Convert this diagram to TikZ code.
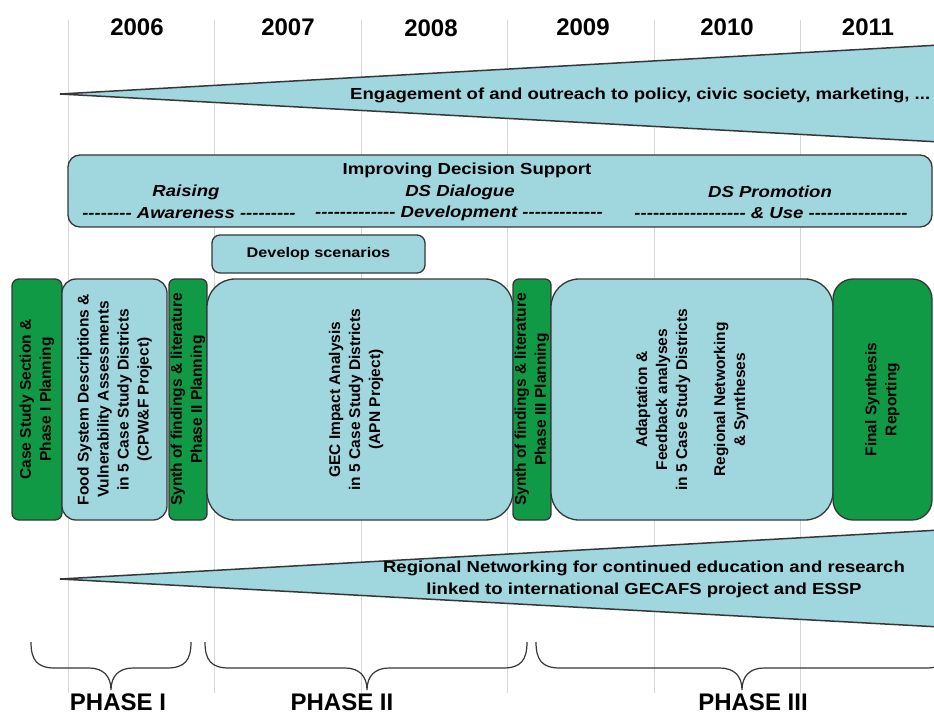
\documentclass[tikz,border=0pt]{standalone}
\usepackage{fontspec}
\setmainfont{Liberation Sans}[Ligatures=TeXOff]
\newfontfamily\widefont{Liberation Sans}[FakeStretch=1.16, Ligatures=TeXOff]
\definecolor{boxblue}{RGB}{160,215,222}
\definecolor{boxgreen}{RGB}{16,154,70}
\definecolor{edge}{RGB}{55,55,55}
\definecolor{gridgray}{RGB}{215,215,215}
\newcommand\hyph[1]{\foreach\k in {1,...,#1}{-}}

\begin{document}
\begin{tikzpicture}[x=1pt,y=-1pt,
  gridline/.style={draw=gridgray, line width=0.8pt},
  wedge/.style={fill=boxblue, draw=edge, line width=1.5pt, line join=miter},
  bluebox/.style={draw=edge, line width=1.3pt, fill=boxblue, inner sep=0pt},
  greenbox/.style={draw=edge, line width=1.3pt, fill=boxgreen, inner sep=0pt},
  vtext/.style={rotate=90, align=center, font=\fontsize{15.5}{20}\selectfont\bfseries},
  yearlabel/.style={font=\fontsize{24}{28}\selectfont\bfseries, inner sep=0pt},
  phaselabel/.style={font=\fontsize{24}{28}\selectfont\bfseries, inner sep=0pt},
  bodytext/.style={font=\widefont\fontsize{16}{22}\selectfont\bfseries, inner sep=0pt, align=center},
  slanttext/.style={font=\widefont\fontsize{16}{19}\selectfont\bfseries\itshape, inner sep=0pt},
  bracepath/.style={draw=edge, line width=1.2pt}
]
\clip (0,0) rectangle (934,715);
\fill[white] (0,0) rectangle (934,715);

% year columns
\foreach \gx in {68,214,361,507,654,800}
  \draw[gridline] (\gx,20) -- (\gx,693);

\node[yearlabel] (y2006) at (137,27) {2006};
\node[yearlabel] (y2007) at (288,27) {2007};
\node[yearlabel] (y2008) at (431,28) {2008};
\node[yearlabel] (y2009) at (583,27) {2009};
\node[yearlabel] (y2010) at (727,27) {2010};
\node[yearlabel] (y2011) at (868,27) {2011};

% outreach wedge
\coordinate (toptip) at (60,94);
\coordinate (topup) at (940,45);
\coordinate (toplow) at (940,142);
\filldraw[wedge] (toptip) -- (topup) -- (toplow) -- cycle;
\node[bodytext, anchor=west] (outreach) at (350,95)
  {Engagement of and outreach to policy, civic society, marketing, ...};

% decision support band
\node[bluebox, rounded corners=12pt, minimum width=864pt, minimum height=72pt]
  (ds) at (500,191) {};
\node[bodytext] (dstitle) at (467,170) {Improving Decision Support};
\node[slanttext] (raise1) at (186,192) {Raising};
\node[slanttext] (raise2) at (189,213) {\hyph{8} Awareness \hyph{9}};
\node[slanttext] (dial1) at (460,192) {DS Dialogue};
\node[slanttext] (dial2) at (459,213) {\hyph{13} Development \hyph{13}};
\node[slanttext] (prom1) at (770,192) {DS Promotion};
\node[slanttext] (prom2) at (771,213) {\hyph{18} \& Use \hyph{16}};

\node[bluebox, rounded corners=8pt, minimum width=213pt, minimum height=38pt,
      font=\widefont\fontsize{14}{17}\selectfont\bfseries] (scen) at (318.5,254) {Develop scenarios};

% activity blocks
\node[greenbox, vtext, rounded corners=7pt, minimum width=241pt, minimum height=50pt]
  (cs) at (37,399.5) {Case Study Section \&\\Phase I Planning};
\node[bluebox, vtext, rounded corners=14pt, minimum width=241pt, minimum height=105pt]
  (food) at (114.5,399.5) {Food System Descriptions \&\\Vulnerability Assessments\\in 5 Case Study Districts\\(CPW\&F Project)};
\node[greenbox, vtext, rounded corners=6pt, minimum width=241pt, minimum height=38pt]
  (syn1) at (188,399.5) {Synth of findings \& literature\\Phase II Planning};
\node[bluebox, rounded corners=28pt, minimum width=306pt, minimum height=241pt]
  (gec) at (360,399.5) {};
\node[vtext] (gectext) at ([xshift=-4pt]gec.center) {GEC Impact Analysis\\in 5 Case Study Districts\\(APN Project)};
\node[greenbox, vtext, rounded corners=6pt, minimum width=241pt, minimum height=38pt]
  (syn2) at (532,399.5) {Synth of findings \& literature\\Phase III Planning};
\node[bluebox, vtext, rounded corners=28pt, minimum width=241pt, minimum height=282pt]
  (adapt) at (692,399.5) {Adaptation \&\\Feedback analyses\\in 5 Case Study Districts\\[18pt]Regional Networking\\\& Syntheses};
\node[greenbox, vtext, rounded corners=20pt, minimum width=241pt, minimum height=99pt]
  (final) at (882.5,399.5) {Final Synthesis\\Reporting};

% networking wedge
\coordinate (bottip) at (60,579);
\coordinate (botup) at (940,530);
\coordinate (botlow) at (940,627);
\filldraw[wedge] (bottip) -- (botup) -- (botlow) -- cycle;
\node[bodytext] (network) at (644,579)
  {Regional Networking for continued education and research\\linked to international GECAFS project and ESSP};

% phase braces
\foreach \l/\t/\r/\nm in {31/111/191/one, 205/367/527/two, 536/742/950/three}{
  \coordinate (\nm L) at (\l,642);
  \coordinate (\nm T) at (\t,690);
  \coordinate (\nm R) at (\r,642);
  \draw[bracepath] (\nm L) .. controls (\l,660) and (\l+6,668) .. (\l+24,668)
    -- (\t-22,668) .. controls (\t-8,668) and (\t,676) .. (\nm T)
    .. controls (\t,676) and (\t+8,668) .. (\t+22,668)
    -- (\r-24,668) .. controls (\r-6,668) and (\r,660) .. (\nm R);
}

\node[phaselabel] (p1) at (118,702) {PHASE I};
\node[phaselabel] (p2) at (342,702) {PHASE II};
\node[phaselabel] (p3) at (753,702) {PHASE III};
\end{tikzpicture}
\end{document}
